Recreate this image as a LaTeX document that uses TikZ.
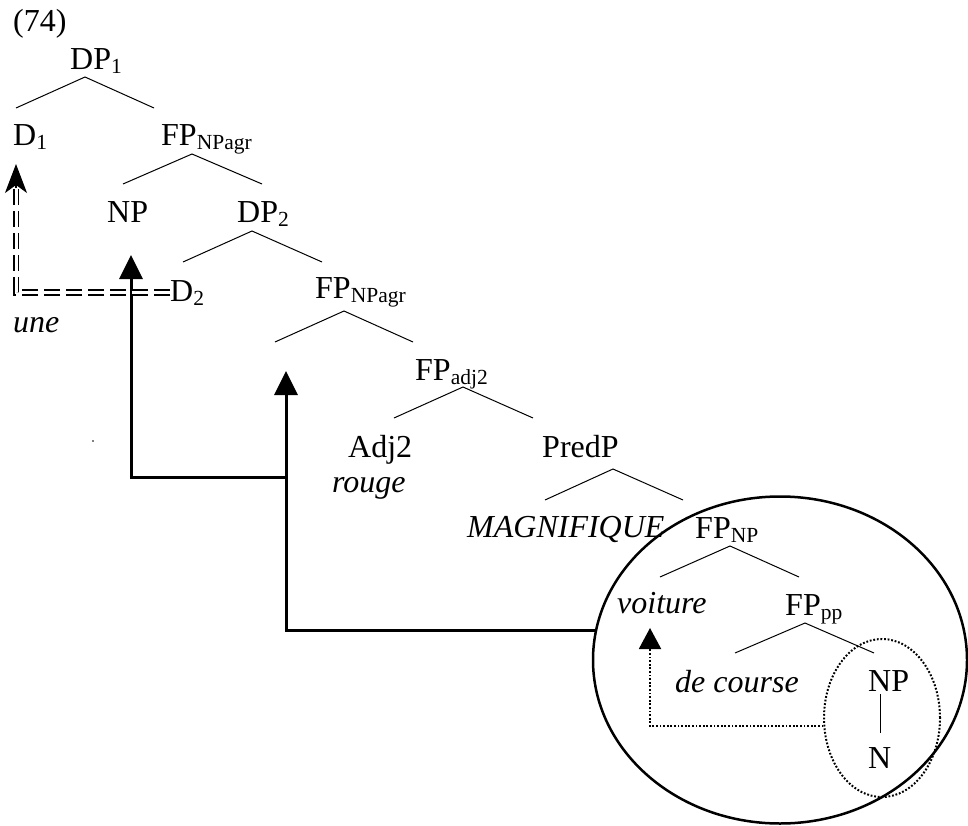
\documentclass[tikz,border=0pt]{standalone}
\usepackage{fontspec}
\setmainfont{Liberation Serif}
\usetikzlibrary{arrows.meta,shapes.geometric}
\newcommand{\lsub}[1]{\raisebox{-4pt}{\fontsize{21.5}{24}\selectfont #1}}
\begin{document}
\begin{tikzpicture}[x=1pt,y=-1pt,
  font=\fontsize{32}{36}\selectfont,
  lbl/.style={anchor=base west, inner sep=0pt},
  br/.style={line width=1pt},
  thk/.style={line width=3pt},
  dotline/.style={line width=2pt, dash pattern=on 1.8pt off 1.8pt},
  dbl/.style={line width=1.7pt, double distance=3pt, dash pattern=on 16pt off 6pt},
  tri/.style={-{Triangle[length=24pt,width=23pt]}}]
\useasboundingbox (0,0) rectangle (968,826);
% labels
\node[lbl] (ex) at (13,32) {(74)};
\node[lbl] (dp1) at (70,70) {DP\lsub{1}};
\node[lbl] (d1) at (13,146) {D\lsub{1}};
\node[lbl] (fp1) at (161,146) {FP\lsub{NPagr}};
\node[lbl] (np1) at (107,223) {NP};
\node[lbl] (dp2) at (237,223) {DP\lsub{2}};
\node[lbl] (d2) at (170,301) {D\lsub{2}};
\node[lbl] (fp2) at (315,298) {FP\lsub{NPagr}};
\node[lbl] (une) at (13,332) {\itshape une};
\node[lbl] (fpa) at (415,380) {FP\lsub{adj2}};
\node[lbl] (adj) at (348,457) {Adj2};
\node[lbl] (rouge) at (332,492) {\itshape rouge};
\node[lbl] (pred) at (542,457) {PredP};
\node[lbl] (mag) at (467,537) {\itshape MAGNIFIQUE};
\node[lbl] (fpnp) at (695,538) {FP\lsub{NP}};
\node[lbl] (voit) at (617,613) {\itshape voiture};
\node[lbl] (fppp) at (785,615) {FP\lsub{pp}};
\node[lbl] (dec) at (675,692) {\itshape de course};
\node[lbl] (np2) at (868,691) {NP};
\node[lbl] (n) at (868,768) {N};
\node[circle, fill, inner sep=0pt, minimum size=1.6pt] (dot) at (93,441) {};
% branches
\coordinate (a1) at (85,77);   \coordinate (l1) at (16,108);  \coordinate (r1) at (154,108);
\coordinate (a2) at (192,154); \coordinate (l2) at (123,184); \coordinate (r2) at (262,184);
\coordinate (a3) at (252,231); \coordinate (l3) at (183,262); \coordinate (r3) at (322,262);
\coordinate (a4) at (344,311); \coordinate (l4) at (275,342); \coordinate (r4) at (413,342);
\coordinate (a5) at (463,387); \coordinate (l5) at (394,418); \coordinate (r5) at (533,418);
\coordinate (a6) at (613,469); \coordinate (l6) at (545,500); \coordinate (r6) at (683,500);
\coordinate (a7) at (730,546); \coordinate (l7) at (660,577); \coordinate (r7) at (799,577);
\coordinate (a8) at (805,623); \coordinate (l8) at (735,653); \coordinate (r8) at (874,653);
\foreach \i in {1,...,8} {\draw[br] (l\i) -- (a\i) -- (r\i);}
\coordinate (nt) at (880,694); \coordinate (nb) at (880,733);
\draw[br] (nt) -- (nb);
% ellipses
\node[draw, ellipse, line width=2.5pt, minimum width=374pt, minimum height=327pt, inner sep=0pt] (big) at (780,660) {};
\node[draw, ellipse, dotline, minimum width=116pt, minimum height=158pt, inner sep=0pt] (sm) at (882,718) {};
% arrows
\coordinate (tipA) at (131,255);
\coordinate (tipB) at (286,371);
\coordinate (jn) at (286,477);
\coordinate (tipV) at (650,628);
\draw[thk,tri] (big.171) -| (tipB);
\draw[thk,tri] (jn) -| (tipA);
\draw[dotline,-{Triangle[length=21pt,width=22pt]}] (sm.188) -| (tipV);
\coordinate (dstem) at (16,188);
\coordinate (dtip) at (16,164);
\draw[dbl] (d2.west) -| (dstem);
\draw[line width=1.4pt,-{Stealth[length=29pt,width=22pt,inset=8pt]}] (dstem) -- (dtip);
\end{tikzpicture}
\end{document}
